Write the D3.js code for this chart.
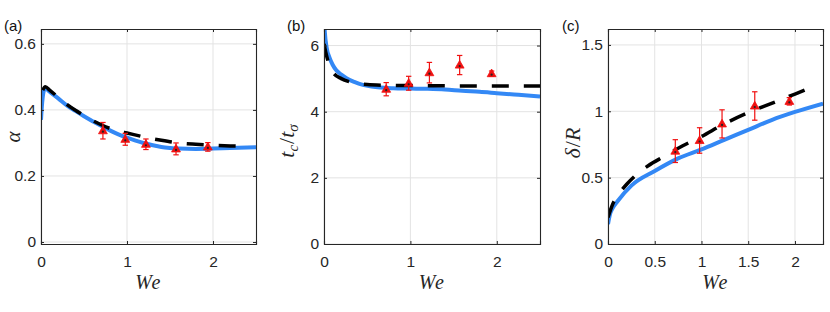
<!DOCTYPE html>
<html>
<head>
<meta charset="utf-8">
<script src="https://cdn.jsdelivr.net/npm/d3@7"></script>
<style>
body { margin: 0; background: #fff; }
</style>
</head>
<body>
<div id="chart"></div>
<script>
// experimental points (same We for all panels)
var weExp = [0.72, 0.98, 1.22, 1.57, 1.94];
var alphaExp = [0.337, 0.311, 0.296, 0.282, 0.288];
var alphaErr = [0.025, 0.018, 0.016, 0.018, 0.013];
var tcExp = [4.68, 4.86, 5.18, 5.41, 5.15];
var tcErr = [0.2, 0.21, 0.31, 0.29, 0.08];
var delExp = [0.70, 0.78, 0.905, 1.04, 1.075];
var delErr = [0.086, 0.096, 0.106, 0.107, 0.028];

// simulation (blue solid)
var weSimA = [0, 0.01, 0.03, 0.05, 0.1, 0.2, 0.3, 0.4, 0.5, 0.6, 0.7, 0.8, 0.9, 1.0, 1.1, 1.2, 1.3, 1.4, 1.5, 1.6, 1.8, 2.0, 2.2, 2.5];
var alphaSim = [0.37, 0.41, 0.455, 0.465, 0.455, 0.435, 0.414, 0.397, 0.381, 0.366, 0.352, 0.338, 0.326, 0.316, 0.307, 0.299, 0.293, 0.288, 0.285, 0.283, 0.282, 0.283, 0.285, 0.287];
var weSimB = [0, 0.01, 0.03, 0.066, 0.1, 0.14, 0.2, 0.26, 0.35, 0.45, 0.55, 0.65, 0.8, 1.0, 1.2, 1.4, 1.6, 1.8, 2.0, 2.2, 2.5];
var tcSim = [6.9, 6.4, 5.95, 5.62, 5.42, 5.26, 5.12, 5.01, 4.9, 4.81, 4.76, 4.73, 4.71, 4.70, 4.69, 4.67, 4.63, 4.6, 4.56, 4.52, 4.46];
var weSimC = [0, 0.02, 0.05, 0.1, 0.25, 0.5, 0.75, 1.0, 1.25, 1.5, 1.75, 2.0, 2.3];
var delSim = [0.15, 0.22, 0.27, 0.32, 0.44, 0.55, 0.645, 0.713, 0.787, 0.86, 0.934, 0.995, 1.058];

// model (black dashed)
var weModA = [0.02, 0.05, 0.1, 0.2, 0.3, 0.4, 0.5, 0.6, 0.7, 0.8, 0.9, 1.0, 1.2, 1.4, 1.6, 1.8, 2.0, 2.2, 2.32];
var alphaMod = [0.46, 0.47, 0.46, 0.438, 0.417, 0.399, 0.383, 0.368, 0.355, 0.344, 0.336, 0.33, 0.318, 0.308, 0.30, 0.296, 0.293, 0.291, 0.29];
var weModB = [0, 0.02, 0.05, 0.1, 0.2, 0.3, 0.5, 0.7, 1.0, 1.5, 2.0, 2.5];
var tcMod = [6.05, 5.8, 5.5, 5.2, 5.0, 4.9, 4.82, 4.8, 4.79, 4.78, 4.78, 4.78];
var weModC = [0, 0.05, 0.1, 0.2, 0.3, 0.43, 0.6, 0.8, 1.0, 1.23, 1.5, 1.75, 2.0, 2.19];
var delMod = [0.2, 0.3, 0.36, 0.45, 0.52, 0.59, 0.66, 0.74, 0.81, 0.90, 0.99, 1.06, 1.13, 1.185];

var W = 830, H = 312;
var top0 = 29, bot0 = 244;
var blue = "#3388f5";
var serif = "'Liberation Serif', 'Times New Roman', serif";

var svg = d3.select("#chart").append("svg")
  .attr("width", W).attr("height", H)
  .style("font-family", "'Liberation Sans', Arial, sans-serif");

function zip(a, b) { return a.map(function(d, i) { return [d, b[i]]; }); }

function panel(p) {
  var x = d3.scaleLinear().domain(p.xd).range([p.left, p.right]);
  var y = d3.scaleLinear().domain(p.yd).range([bot0, top0]);
  var g = svg.append("g");

  g.append("clipPath").attr("id", "clip" + p.id)
    .append("rect").attr("x", p.left).attr("y", top0)
    .attr("width", p.right - p.left).attr("height", bot0 - top0);

  // grid
  g.selectAll(".gx").data(p.xt).enter().append("line")
    .attr("x1", function(d) { return x(d); }).attr("x2", function(d) { return x(d); })
    .attr("y1", top0).attr("y2", bot0)
    .attr("stroke", "#e3e3e3").attr("stroke-width", 1);
  g.selectAll(".gy").data(p.yt).enter().append("line")
    .attr("y1", function(d) { return y(d); }).attr("y2", function(d) { return y(d); })
    .attr("x1", p.left).attr("x2", p.right)
    .attr("stroke", "#e3e3e3").attr("stroke-width", 1);

  var line = d3.line()
    .x(function(d) { return x(d[0]); })
    .y(function(d) { return y(d[1]); })
    .curve(d3.curveMonotoneX);

  var plot = g.append("g").attr("clip-path", "url(#clip" + p.id + ")");
  plot.append("path").datum(zip(p.simX, p.simY))
    .attr("d", line).attr("fill", "none")
    .attr("stroke", blue).attr("stroke-width", 4);
  plot.append("path").datum(zip(p.modX, p.modY))
    .attr("d", line).attr("fill", "none")
    .attr("stroke", "#000").attr("stroke-width", 3.5)
    .attr("stroke-dasharray", "17,15");

  // error bars
  var pts = weExp.map(function(d, i) { return {x: d, y: p.expY[i], e: p.expE[i]}; });
  var eb = g.selectAll(".eb").data(pts).enter().append("g");
  eb.append("line")
    .attr("x1", function(d) { return x(d.x); }).attr("x2", function(d) { return x(d.x); })
    .attr("y1", function(d) { return y(d.y - d.e); }).attr("y2", function(d) { return y(d.y + d.e); })
    .attr("stroke", "#f01010").attr("stroke-width", 1.2);
  [-1, 1].forEach(function(s) {
    eb.append("line")
      .attr("x1", function(d) { return x(d.x) - 2.7; }).attr("x2", function(d) { return x(d.x) + 2.7; })
      .attr("y1", function(d) { return y(d.y + s * d.e); }).attr("y2", function(d) { return y(d.y + s * d.e); })
      .attr("stroke", "#f01010").attr("stroke-width", 1.2);
  });
  eb.append("path")
    .attr("d", d3.symbol(d3.symbolTriangle).size(34))
    .attr("transform", function(d) { return "translate(" + x(d.x) + "," + (y(d.y) + 0.5) + ")"; })
    .attr("fill", "#f01010").attr("stroke", "#f01010").attr("stroke-width", 0.8);
  eb.append("circle")
    .attr("cx", function(d) { return x(d.x); }).attr("cy", function(d) { return y(d.y) + 1; })
    .attr("r", 1.1).attr("fill", "#222");

  // axes (ticks pointing inward, box all round)
  var fmt = function(d) { return d3.format("")(d); };
  var ax = [
    {a: d3.axisBottom(x).tickValues(p.xt).tickFormat(fmt).tickSize(-3).tickPadding(12), t: "translate(0," + bot0 + ")", lab: true},
    {a: d3.axisTop(x).tickValues(p.xt).tickSize(-3), t: "translate(0," + top0 + ")", lab: false},
    {a: d3.axisLeft(y).tickValues(p.yt).tickFormat(fmt).tickSize(-3).tickPadding(5), t: "translate(" + p.left + ",0)", lab: true},
    {a: d3.axisRight(y).tickValues(p.yt).tickSize(-3), t: "translate(" + p.right + ",0)", lab: false}
  ];
  ax.forEach(function(o) {
    var s = g.append("g").attr("transform", o.t).call(o.a);
    s.select(".domain").attr("stroke", "#262626").attr("stroke-width", 1.1);
    s.selectAll(".tick line").attr("stroke", "#262626");
    s.selectAll("text").attr("fill", "#262626")
      .style("font-size", "15.5px").style("font-family", "'Liberation Sans', Arial, sans-serif");
    if (!o.lab) s.selectAll("text").remove();
  });

  // x label
  g.append("text").attr("x", (p.left + p.right) / 2).attr("y", 289)
    .attr("text-anchor", "middle")
    .style("font-family", serif).style("letter-spacing", "1.5px")
    .style("font-style", "italic").style("font-size", "20px").attr("fill", "#262626")
    .text("We");

  // y label
  var yl = g.append("text")
    .attr("transform", "translate(" + p.ylx + "," + p.yly + ") rotate(-90)")
    .attr("text-anchor", "middle")
    .style("font-family", serif)
    .style("font-size", p.ylfs + "px").attr("fill", "#262626");
  p.ylab(yl);

  // panel tag
  g.append("text").attr("x", p.tagx).attr("y", 31)
    .style("font-size", "15px").attr("fill", "#111")
    .text(p.tag);
}

panel({
  id: "a", tag: "(a)", tagx: 4, left: 41, right: 256, ylx: 20, yly: 137, ylfs: 21,
  xd: [0, 2.5], yd: [-0.006, 0.645], xt: [0, 1, 2], yt: [0, 0.2, 0.4, 0.6],
  simX: weSimA, simY: alphaSim, modX: weModA, modY: alphaMod,
  expY: alphaExp, expE: alphaErr,
  ylab: function(t) { t.append("tspan").style("font-style", "italic").text("α"); }
});

panel({
  id: "b", tag: "(b)", tagx: 287, left: 324, right: 540, ylx: 294, yly: 141, ylfs: 22,
  xd: [0, 2.5], yd: [0, 6.5], xt: [0, 1, 2], yt: [0, 2, 4, 6],
  simX: weSimB, simY: tcSim, modX: weModB, modY: tcMod,
  expY: tcExp, expE: tcErr,
  ylab: function(t) {
    t.append("tspan").style("font-style", "italic").text("t");
    t.append("tspan").style("font-style", "italic").style("font-size", "15px").attr("dy", 4).text("c");
    t.append("tspan").attr("dy", -4).attr("dx", 1).text("/");
    t.append("tspan").style("font-style", "italic").text("t");
    t.append("tspan").style("font-style", "italic").style("font-size", "15px").attr("dy", 4).text("σ");
  }
});

panel({
  id: "c", tag: "(c)", tagx: 562, left: 608, right: 823, ylx: 580, yly: 143, ylfs: 22,
  xd: [0, 2.3], yd: [0, 1.62], xt: [0, 0.5, 1, 1.5, 2], yt: [0, 0.5, 1, 1.5],
  simX: weSimC, simY: delSim, modX: weModC, modY: delMod,
  expY: delExp, expE: delErr,
  ylab: function(t) {
    t.append("tspan").style("font-style", "italic").text("δ");
    t.append("tspan").attr("dx", 1).text("/");
    t.append("tspan").style("font-style", "italic").text("R");
  }
});
</script>
</body>
</html>
